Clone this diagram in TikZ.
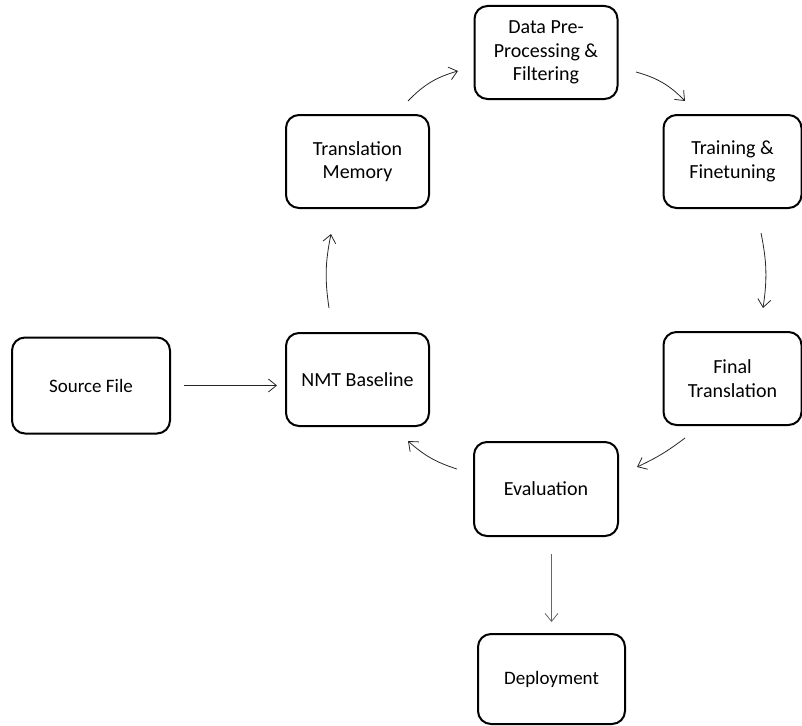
\documentclass[tikz,border=0pt]{standalone}
\usepackage{fontspec}
\setmainfont{Carlito}
\usetikzlibrary{arrows.meta}
\begin{document}
\begin{tikzpicture}[x=1pt,y=-1pt,
  box/.style={draw=black, line width=2pt, rounded corners=13pt, align=center,
    inner sep=0pt, font=\fontsize{20}{23.5}\selectfont},
  smallbox/.style={box, font=\fontsize{19}{22}\selectfont},
  conn/.style={draw=black!85, line width=0.8pt, -{Straight Barb[length=8pt,width=13pt]}}]
\useasboundingbox (0,0) rectangle (802,725);
\node[box, minimum width=143pt, minimum height=93pt] (data) at (546,52.5) {Data Pre-\\Processing \&\\Filtering};
\node[box, minimum width=143pt, minimum height=93pt] (tm) at (357.5,161.5) {Translation\\Memory};
\node[box, minimum width=138pt, minimum height=93pt] (train) at (732.5,161.5) {Training \&\\Finetuning};
\node[box, minimum width=138pt, minimum height=93pt] (final) at (732.5,378.5) {Final\\Translation};
\node[smallbox, minimum width=158pt, minimum height=96pt] (src) at (91,385.5) {Source File};
\node[box, minimum width=143pt, minimum height=93pt] (nmt) at (357.5,379.5) {NMT Baseline};
\node[box, minimum width=144pt, minimum height=94pt] (eval) at (546,489) {Evaluation};
\node[smallbox, minimum width=147pt, minimum height=90pt] (dep) at (551.5,679) {Deployment};

\coordinate (a1) at (329,308); \coordinate (a2) at (331,234);
\coordinate (b1) at (408,101); \coordinate (b2) at (458,71);
\coordinate (c1) at (636,72);  \coordinate (c2) at (685,101);
\coordinate (d1) at (761,233); \coordinate (d2) at (763,308);
\coordinate (e1) at (685,438); \coordinate (e2) at (637,467);
\coordinate (f1) at (457,469); \coordinate (f2) at (408,441);

\draw[conn, shorten <=13pt, shorten >=8pt] (src.east) -- (src.east -| nmt.west);
\draw[conn] (a1) to[bend left=10] (a2);
\draw[conn] (b1) to[bend left=15] (b2);
\draw[conn] (c1) to[bend left=15] (c2);
\draw[conn] (d1) to[bend left=10] (d2);
\draw[conn] (e1) to[bend left=6] (e2);
\draw[conn] (f1) to[bend left=12] (f2);
\draw[conn, draw=black!60, shorten <=17pt, shorten >=11pt] (eval.south -| dep.north) -- (dep.north);
\end{tikzpicture}
\end{document}
